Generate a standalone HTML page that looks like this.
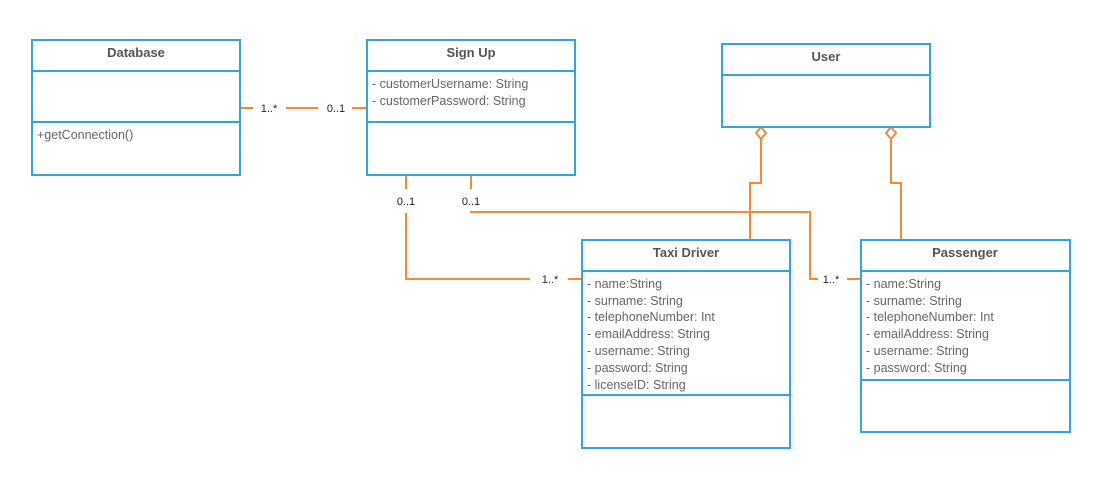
<!DOCTYPE html>
<html><head><meta charset="utf-8"><style>
html,body{margin:0;padding:0;background:#fff;}
svg{display:block;font-family:"Liberation Sans",sans-serif;}
.b{fill:#fff;stroke:#33a4dc;stroke-width:2;}
.d{stroke:#33a4dc;stroke-width:2;}
.t{font-weight:bold;font-size:13px;fill:#555;text-anchor:middle;}
.a{font-size:12.5px;fill:#666;}
.c{stroke:#f28a36;stroke-width:2;fill:none;}
.m{font-size:11px;fill:#222;text-anchor:middle;}
</style></head><body>
<svg width="1117" height="489" viewBox="0 0 1117 489">
<!-- connectors -->
<line class="c" x1="240" y1="108" x2="253" y2="108"/>
<line class="c" x1="286" y1="108" x2="318" y2="108"/>
<line class="c" x1="352" y1="108" x2="367" y2="108"/>
<text class="m" x="269" y="112">1..*</text>
<text class="m" x="336" y="112">0..1</text>
<line class="c" x1="406" y1="175" x2="406" y2="189"/>
<polyline class="c" points="406,213 406,279 530,279"/>
<line class="c" x1="568" y1="279" x2="582" y2="279"/>
<text class="m" x="406" y="205">0..1</text>
<text class="m" x="550" y="283">1..*</text>
<line class="c" x1="471" y1="175" x2="471" y2="189"/>
<polyline class="c" points="470,212 810,212 810,279 818,279"/>
<line class="c" x1="847" y1="279" x2="861" y2="279"/>
<text class="m" x="471" y="205">0..1</text>
<text class="m" x="831" y="283">1..*</text>
<polyline class="c" points="761,139 761,183 750,183 750,240"/>
<polygon class="c" points="761,127 766,133 761,139 756,133"/>
<polyline class="c" points="891,139 891,183 901,183 901,240"/>
<polygon class="c" points="891,127 896,133 891,139 886,133"/>
<!-- Database -->
<rect class="b" x="32" y="40" width="208" height="135"/>
<line class="d" x1="32" y1="71" x2="240" y2="71"/>
<line class="d" x1="32" y1="122" x2="240" y2="122"/>
<text class="t" x="136" y="57">Database</text>
<text class="a" x="37" y="139">+getConnection()</text>
<!-- Sign Up -->
<rect class="b" x="367" y="40" width="208" height="135"/>
<line class="d" x1="367" y1="71" x2="575" y2="71"/>
<line class="d" x1="367" y1="122" x2="575" y2="122"/>
<text class="t" x="471" y="57">Sign Up</text>
<text class="a" x="372" y="88">- customerUsername: String</text>
<text class="a" x="372" y="105">- customerPassword: String</text>
<!-- User -->
<rect class="b" x="722" y="44" width="208" height="83"/>
<line class="d" x1="722" y1="75" x2="930" y2="75"/>
<text class="t" x="826" y="61">User</text>
<!-- Taxi Driver -->
<rect class="b" x="582" y="240" width="208" height="208"/>
<line class="d" x1="582" y1="271" x2="790" y2="271"/>
<line class="d" x1="582" y1="395" x2="790" y2="395"/>
<text class="t" x="686" y="257">Taxi Driver</text>
<text class="a" x="587" y="288">- name:String</text>
<text class="a" x="587" y="305">- surname: String</text>
<text class="a" x="587" y="321">- telephoneNumber: Int</text>
<text class="a" x="587" y="338">- emailAddress: String</text>
<text class="a" x="587" y="355">- username: String</text>
<text class="a" x="587" y="372">- password: String</text>
<text class="a" x="587" y="389">- licenseID: String</text>
<!-- Passenger -->
<rect class="b" x="861" y="240" width="209" height="192"/>
<line class="d" x1="861" y1="271" x2="1070" y2="271"/>
<line class="d" x1="861" y1="380" x2="1070" y2="380"/>
<text class="t" x="965" y="257">Passenger</text>
<text class="a" x="866" y="288">- name:String</text>
<text class="a" x="866" y="305">- surname: String</text>
<text class="a" x="866" y="321">- telephoneNumber: Int</text>
<text class="a" x="866" y="338">- emailAddress: String</text>
<text class="a" x="866" y="355">- username: String</text>
<text class="a" x="866" y="372">- password: String</text>
</svg>
</body></html>
